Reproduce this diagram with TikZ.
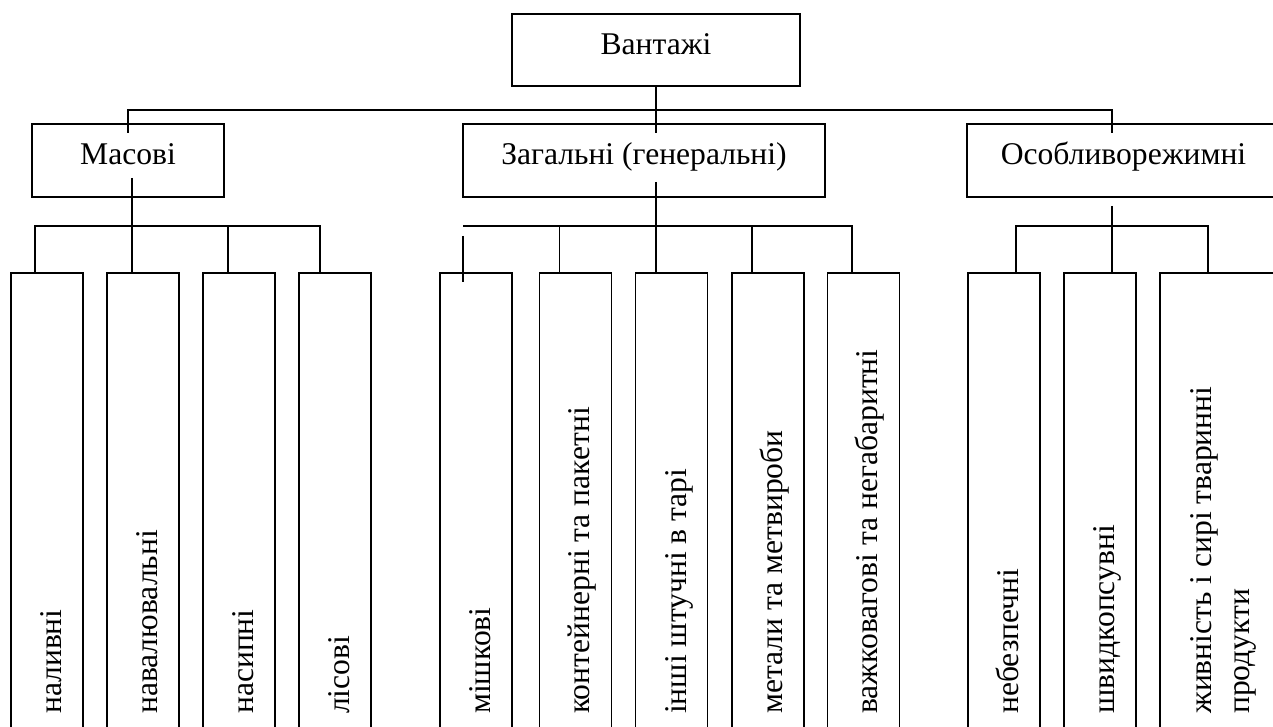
\documentclass[tikz,border=0pt]{standalone}
\usepackage{fontspec}
\setmainfont{Liberation Serif}
\usepackage{tikz}
\tikzstyle{box}=[draw,rectangle,line width=1.8pt,inner sep=0pt,text height=21pt,text depth=12pt]
\tikzstyle{tall}=[draw,rectangle,line width=1.8pt,minimum width=72pt,minimum height=486pt]
\tikzstyle{vtext}=[rotate=90,anchor=base west,inner sep=0pt]
\tikzstyle{line}=[draw,line width=1.8pt]

\begin{document}
\begin{tikzpicture}[x=1pt,y=-1pt,every node/.style={font=\rmfamily\fontsize{31.6}{37}\selectfont}]
      \useasboundingbox (0,0) rectangle (1273,727);
      \clip (0,0) rectangle (1273,727);
      % top levels
      \node[box,minimum width=288pt,minimum height=72pt] (vant) at (656,50) {Вантажі};
      \node[box,minimum width=192pt,minimum height=73pt] (masovi) at (128,160.5) {Масові};
      \node[box,minimum width=362pt,minimum height=73pt] (zagal) at (644,160.5) {Загальні (генеральні)};
      \node[box,minimum width=313pt,minimum height=73pt] (osob) at (1123.5,160.5) {Особливорежимні};
      % tall boxes
      \node[tall] (t1) at (47,516) {};
      \node[tall] (t2) at (143,516) {};
      \node[tall] (t3) at (239,516) {};
      \node[tall] (t4) at (335,516) {};
      \node[tall] (g1) at (476,516) {};
      \node[tall] (g2) at (575.5,516) {};
      \node[tall] (g3) at (671.5,516) {};
      \node[tall] (g4) at (768,516) {};
      \node[tall] (g5) at (863.5,516) {};
      \node[tall] (s1) at (1004,516) {};
      \node[tall] (s2) at (1100,516) {};
      \node[tall,minimum width=130pt] (s3) at (1225,516) {};
      \node[vtext] at (61,714) {наливні};
      \node[vtext] at (157,714) {навалювальні};
      \node[vtext] at (253,714) {насипні};
      \node[vtext] at (349,714) {лісові};
      \node[vtext] at (490,714) {мішкові};
      \node[vtext] at (589,714) {контейнерні та пакетні};
      \node[vtext] at (686,714) {інші штучні в тарі};
      \node[vtext] at (782,714) {метали та метвироби};
      \node[vtext] at (877,714) {важковагові та негабаритні};
      \node[vtext] at (1018,714) {небезпечні};
      \node[vtext] at (1114,714) {швидкопсувні};
      \node[vtext,anchor=south west,align=left] at (1256,714) {живність і сирі тваринні\\продукти};
      % connectors
      \coordinate (top) at (656,110);
      \coordinate (mT) at (128,133);
      \coordinate (zT) at (656,133);
      \coordinate (oT) at (1112,133);
      \draw[line] (vant) -- (zT);
      \draw[line] (mT) |- (top) -| (oT);
      \coordinate (mA) at (132,178);
      \coordinate (zA) at (656,182);
      \coordinate (oA) at (1112,206);
      \draw[line] (mA) -- (mA |- t2.north);
      \draw[line] (zA) -- (zA |- g3.north);
      \draw[line] (oA) -- (oA |- s2.north);
      \coordinate (mL) at (35,226);
      \coordinate (mR) at (320,226);
      \draw[line] (mL |- t1.north) |- (mR) -- (mR |- t4.north);
      \draw[line] ([xshift=-11pt]t3.north) -- ++(0,-47);
      \coordinate (zL) at (463,226);
      \coordinate (zR) at (852,226);
      \draw[line] (zL) -- (zR) -- (zR |- g5.north);
      \draw[line] ([xshift=-16pt]g2.north) -- ++(0,-47);
      \draw[line] ([xshift=-16pt]g4.north) -- ++(0,-47);
      \draw[line] ([yshift=-10pt]zL) -- ([yshift=-10pt]g1.north -| zL);
      \coordinate (sL) at (1016,226);
      \coordinate (sR) at (1208,226);
      \draw[line] (sL |- s1.north) |- (sR) -- (sR |- s3.north);
  \end{tikzpicture}
\end{document}
